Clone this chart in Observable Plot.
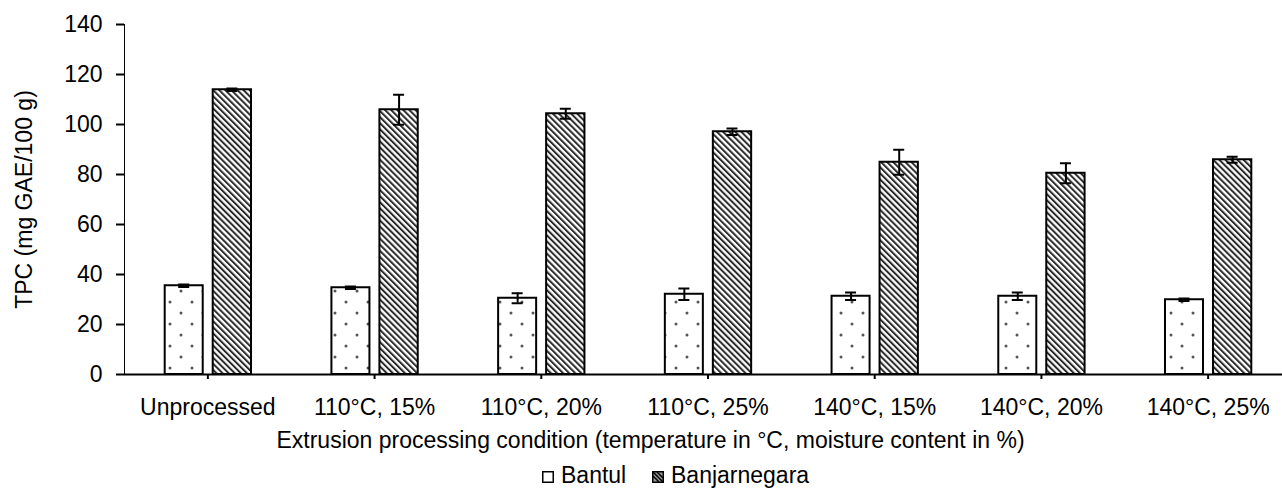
<!DOCTYPE html>
<html>
<head>
<meta charset="utf-8">
<script src="https://cdn.jsdelivr.net/npm/d3@7"></script>
<script src="https://cdn.jsdelivr.net/npm/@observablehq/plot@0.6"></script>
<style>
  html, body { margin: 0; padding: 0; background: #fff; }
  #wrap { position: relative; width: 1282px; height: 488px; font-family: "Liberation Sans", Arial, sans-serif; }
  #legend { position: absolute; left: 0; top: 462px; width: 1282px; height: 26px; font-size: 23px; line-height: 26px; color: #000; }
  .item { position: absolute; top: 0; white-space: nowrap; }
  .sw { position: absolute; top: 9px; }
</style>
</head>
<body>
<div id="wrap">
  <div id="chart"></div>
  <div id="legend"></div>
</div>
<script>
const categories = ["Unprocessed", "110°C, 15%", "110°C, 20%", "110°C, 25%", "140°C, 15%", "140°C, 20%", "140°C, 25%"];
const seriesNames = ["Bantul", "Banjarnegara"];
const bantul = [35.5, 34.7, 30.5, 32.1, 31.3, 31.3, 29.9];
const bantulErr = [0.5, 0.5, 2.0, 2.3, 1.5, 1.5, 0.5];
const banjarnegara = [113.9, 105.9, 104.3, 97.1, 84.9, 80.5, 85.9];
const banjarnegaraErr = [0.5, 6.0, 2.0, 1.3, 5.0, 4.0, 1.2];
const yTicks = [0, 20, 40, 60, 80, 100, 120, 140];
const xTitle = "Extrusion processing condition (temperature in °C, moisture content in %)";
const yTitle = "TPC (mg GAE/100 g)";

const rowsA = categories.map((c, i) => ({cat: c, v: bantul[i], lo: bantul[i] - bantulErr[i], hi: bantul[i] + bantulErr[i]}));
const rowsB = categories.map((c, i) => ({cat: c, v: banjarnegara[i], lo: banjarnegara[i] - banjarnegaraErr[i], hi: banjarnegara[i] + banjarnegaraErr[i]}));

const bw = (1291 - 124) / categories.length;
const aL = 40.7, aR = 88;     // Bantul bar insets
const bL = 88.7, bR = 39.7;   // Banjarnegara bar insets
const aC = aL + (bw - aL - aR) / 2, bC = bL + (bw - bL - bR) / 2;
const cap = 5.5;

const chart = Plot.plot({
  width: 1282,
  height: 458,
  marginTop: 24,
  marginLeft: 124,
  marginRight: 0,
  marginBottom: 84,
  style: {fontFamily: "'Liberation Sans', Arial, sans-serif", fontSize: "23px", color: "#000", background: "#fff", overflow: "visible"},
  x: {domain: categories, range: [124, 1291], padding: 0, round: false, tickSize: 5, tickPadding: 19, label: null},
  y: {domain: [0, 140], range: [374, 24], ticks: yTicks, tickSize: 8, tickPadding: 14, label: null, line: true},
  marks: [
    Plot.barY(rowsA, {x: "cat", y: "v", fill: "url(#dots)", stroke: "#000", strokeWidth: 2, insetLeft: aL, insetRight: aR}),
    Plot.barY(rowsB, {x: "cat", y: "v", fill: "url(#hatch)", stroke: "#000", strokeWidth: 2, insetLeft: bL, insetRight: bR}),
    Plot.ruleX(rowsA, {x: "cat", y1: "lo", y2: "hi", dx: aC - bw / 2, stroke: "#000", strokeWidth: 2}),
    Plot.ruleX(rowsB, {x: "cat", y1: "lo", y2: "hi", dx: bC - bw / 2, stroke: "#000", strokeWidth: 2}),
    Plot.tickY(rowsA, {x: "cat", y: "hi", insetLeft: aC - cap, insetRight: bw - aC - cap, stroke: "#000", strokeWidth: 2}),
    Plot.tickY(rowsA, {x: "cat", y: "lo", insetLeft: aC - cap, insetRight: bw - aC - cap, stroke: "#000", strokeWidth: 2}),
    Plot.tickY(rowsB, {x: "cat", y: "hi", insetLeft: bC - cap, insetRight: bw - bC - cap, stroke: "#000", strokeWidth: 2}),
    Plot.tickY(rowsB, {x: "cat", y: "lo", insetLeft: bC - cap, insetRight: bw - bC - cap, stroke: "#000", strokeWidth: 2}),
    Plot.ruleY([0], {stroke: "#000", strokeWidth: 2}),
    Plot.text([xTitle], {text: d => d, frameAnchor: "bottom", lineAnchor: "middle", textAnchor: "middle", dy: 66.6, dx: -53, fill: "#000"}),
    Plot.text([yTitle], {text: d => d, frameAnchor: "left", lineAnchor: "middle", textAnchor: "middle", rotate: -90, dx: -100, fill: "#000"})
  ]
});

const svg = d3.select(chart);
const defs = svg.insert("defs", ":first-child");
const dots = defs.append("pattern").attr("id", "dots").attr("patternUnits", "userSpaceOnUse")
  .attr("width", 22).attr("height", 22);
dots.append("rect").attr("width", 22).attr("height", 22).attr("fill", "#fff");
dots.append("circle").attr("cx", 5).attr("cy", 5).attr("r", 1.5).attr("fill", "#555");
dots.append("circle").attr("cx", 16).attr("cy", 16).attr("r", 1.5).attr("fill", "#555");
const hatch = defs.append("pattern").attr("id", "hatch").attr("patternUnits", "userSpaceOnUse")
  .attr("width", 4.3).attr("height", 10).attr("patternTransform", "rotate(-45)");
hatch.append("rect").attr("width", 4.3).attr("height", 10).attr("fill", "#fff");
hatch.append("rect").attr("width", 2.0).attr("height", 10).attr("fill", "#2a2a2a");

svg.selectAll("g[aria-label^='y-axis'] path, g[aria-label^='y-axis'] line, g[aria-label^='x-axis'] path, g[aria-label^='x-axis'] line")
  .attr("stroke-width", 2).attr("stroke", "#000");

document.getElementById("chart").appendChild(chart);

// Legend
const legend = d3.select("#legend");
const items = [
  {name: seriesNames[0], sw: 542, tx: 561, fill: "#fff"},
  {name: seriesNames[1], sw: 652, tx: 671, fill: "url(#hatch)"}
];
items.forEach(it => {
  const s = legend.append("svg").attr("class", "sw").style("left", it.sw + "px")
    .attr("width", 12).attr("height", 12);
  s.append("rect").attr("x", 0.75).attr("y", 0.75).attr("width", 10.5).attr("height", 10.5)
    .attr("fill", it.fill === "#fff" ? "#fff" : "#999").attr("stroke", "#000").attr("stroke-width", 1.5);
  if (it.fill !== "#fff") {
    s.append("path").attr("d", "M1,1 L11,11 M1,5 L7,11 M5,1 L11,7").attr("stroke", "#000").attr("stroke-width", 1.5);
  }
  legend.append("span").attr("class", "item").style("left", it.tx + "px").text(it.name);
});
</script>
</body>
</html>
